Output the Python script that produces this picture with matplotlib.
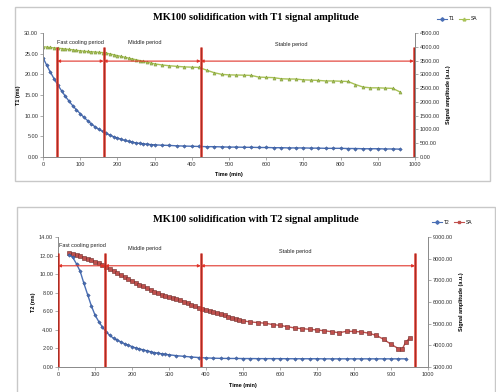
import matplotlib
matplotlib.use("Agg")
import matplotlib.pyplot as plt
from matplotlib.patches import Rectangle
from matplotlib.lines import Line2D

# ---------------- data: top chart (T1) ----------------
t1_time = [0, 10, 20, 30, 40, 50, 60, 70, 80, 90, 100, 110, 120, 130, 140, 150, 160, 170, 180, 190,
           200, 210, 220, 230, 240, 250, 260, 270, 280, 290, 300, 320, 340, 360, 380, 400, 420, 440,
           460, 480, 500, 520, 540, 560, 580, 600, 620, 640, 660, 680, 700, 720, 740, 760, 780, 800,
           820, 840, 860, 880, 900, 920, 940, 960]
t1_values = [24.0, 22.2, 20.5, 18.9, 17.4, 16.0, 14.7, 13.5, 12.4, 11.4, 10.5, 9.6, 8.8, 8.0, 7.3, 6.7,
             6.2, 5.7, 5.3, 4.9, 4.6, 4.3, 4.0, 3.8, 3.6, 3.4, 3.3, 3.2, 3.1, 3.0, 2.95, 2.85, 2.8, 2.7,
             2.65, 2.6, 2.55, 2.5, 2.5, 2.45, 2.4, 2.4, 2.35, 2.35, 2.3, 2.3, 2.25, 2.25, 2.2, 2.2, 2.2,
             2.15, 2.15, 2.1, 2.1, 2.1, 2.05, 2.05, 2.0, 2.0, 2.0, 1.95, 1.95, 1.9]
t1_amp = [4000, 3990, 3975, 3960, 3950, 3935, 3920, 3905, 3890, 3870, 3855, 3840, 3830, 3820, 3810,
          3800, 3790, 3770, 3740, 3710, 3680, 3650, 3620, 3590, 3560, 3530, 3500, 3470, 3440, 3410,
          3380, 3340, 3310, 3290, 3270, 3260, 3250, 3150, 3060, 3000, 2980, 2975, 2970, 2960, 2900,
          2890, 2880, 2840, 2830, 2830, 2800, 2790, 2780, 2760, 2760, 2750, 2740, 2630, 2540, 2510,
          2510, 2500, 2490, 2360]
t1_periods = [38, 163, 424, 997]

# ---------------- data: bottom chart (T2) ----------------
t2_time = [30, 40, 50, 60, 70, 80, 90, 100, 110, 120, 130, 140, 150, 160, 170, 180, 190, 200, 210,
           220, 230, 240, 250, 260, 270, 280, 290, 300, 320, 340, 360, 380, 400, 420, 440, 460, 480,
           500, 520, 540, 560, 580, 600, 620, 640, 660, 680, 700, 720, 740, 760, 780, 800, 820, 840,
           860, 880, 900, 920, 940]
t2_values = [12.1, 11.8, 11.1, 10.3, 9.0, 7.8, 6.6, 5.6, 4.9, 4.3, 3.8, 3.4, 3.1, 2.9, 2.7, 2.5, 2.35,
             2.2, 2.05, 1.95, 1.85, 1.75, 1.65, 1.55, 1.5, 1.42, 1.37, 1.32, 1.22, 1.15, 1.08, 1.02,
             0.98, 0.95, 0.93, 0.92, 0.92, 0.91, 0.91, 0.9, 0.9, 0.9, 0.9, 0.89, 0.89, 0.89, 0.89, 0.89,
             0.88, 0.88, 0.88, 0.88, 0.88, 0.88, 0.88, 0.88, 0.88, 0.88, 0.88, 0.88]
t2_amp_time = [30, 40, 50, 60, 70, 80, 90, 100, 110, 120, 130, 140, 150, 160, 170, 180, 190, 200,
               210, 220, 230, 240, 250, 260, 270, 280, 290, 300, 310, 320, 330, 340, 350, 360, 370,
               380, 390, 400, 410, 420, 430, 440, 450, 460, 470, 480, 490, 500, 520, 540, 560, 580,
               600, 620, 640, 660, 680, 700, 720, 740, 760, 780, 800, 820, 840, 860, 880, 900, 920,
               930, 940, 950]
t2_amp = [8250, 8210, 8170, 8110, 8050, 7980, 7920, 7850, 7780, 7720, 7620, 7520, 7420, 7320, 7230,
          7150, 7060, 6970, 6890, 6800, 6720, 6630, 6550, 6480, 6410, 6340, 6270, 6220, 6170, 6120,
          6070, 6020, 5950, 5870, 5800, 5740, 5690, 5640, 5580, 5520, 5480, 5430, 5380, 5320, 5270,
          5220, 5170, 5130, 5080, 5050, 5020, 4960, 4920, 4860, 4800, 4770, 4740, 4710, 4670, 4630,
          4580, 4650, 4640, 4620, 4560, 4460, 4280, 4050, 3850, 3820, 4150, 4330]
t2_periods = [0, 127, 386, 965]

period_names = ["Fast cooling period", "Middle period", "Stable period"]

BLUE = "#4A6FB5"
GREEN = "#A8C256"
RED = "#C0504D"
LINE_RED = "#E0352B"

plt.rcParams["font.family"] = ["Liberation Sans", "DejaVu Sans"]

W, H = 496, 392
fig = plt.figure(figsize=(W / 100, H / 100), dpi=100)
fig.patch.set_facecolor("white")


def px_axes(x0, y0, x1, y1):
    return fig.add_axes([x0 / W, 1 - y1 / H, (x1 - x0) / W, (y1 - y0) / H])


def frame(x0, y0, x1, y1):
    fig.patches.append(Rectangle((x0 / W, 1 - y1 / H), (x1 - x0) / W, (y1 - y0) / H,
                                 transform=fig.transFigure, facecolor="white",
                                 edgecolor="#c8c8c8", linewidth=1.0, zorder=-5))


def style(ax):
    for s in ["top"]:
        ax.spines[s].set_visible(False)
    for s in ["left", "bottom", "right"]:
        ax.spines[s].set_color("#8c8c8c")
        ax.spines[s].set_linewidth(0.7)
    ax.tick_params(labelsize=4, length=2, width=0.5, color="#8c8c8c", pad=1.5, colors="#333333")


def panel(box, axbox, title, ytitle_y, time, values, amp_time, amp, amp_color, amp_marker,
          ylim, yticks, y2lim, y2ticks, periods, line_top, arrow_y, text_ys, ylab, leg_lab,
          legend_xy):
    frame(*box)
    ax = px_axes(*axbox)
    ax2 = ax.twinx()
    ax.set_zorder(ax2.get_zorder() + 1)
    ax.patch.set_visible(False)
    style(ax)
    style(ax2)
    ax2.spines["left"].set_visible(False)
    ax.set_xlim(0, 1000)
    ax.set_xticks(range(0, 1001, 100))
    ax.set_ylim(*ylim)
    ax.set_yticks(yticks)
    ax.set_yticklabels([f"{v:.2f}" for v in yticks])
    ax2.set_ylim(*y2lim)
    ax2.set_yticks(y2ticks)
    ax2.set_yticklabels([f"{v:.2f}" for v in y2ticks])

    ax2.plot(amp_time, amp, color=amp_color, marker=amp_marker, markersize=2.2,
             markeredgecolor="#6b2a28" if amp_color == RED else "#7f9a3a",
             markeredgewidth=0.4, linewidth=1.0)
    ax.plot(time, values, color=BLUE, marker="D", markersize=1.8, markeredgecolor="#2d4a85",
            markeredgewidth=0.3, linewidth=1.0)

    ax.vlines(periods, 0, line_top, colors=LINE_RED, linewidth=1.8, zorder=5)
    ax.vlines(periods, 0, line_top, colors="#7a2a20", linewidth=0.4, zorder=6)
    for a, b in zip(periods[:-1], periods[1:]):
        ax.annotate("", xy=(b, arrow_y), xytext=(a, arrow_y),
                    arrowprops=dict(arrowstyle="<|-|>", color=LINE_RED, lw=0.8,
                                    mutation_scale=4, shrinkA=0, shrinkB=0), zorder=6)
    for (tx, ty), name in zip(text_ys, period_names):
        ax.text(tx, ty, name, fontsize=4, ha="center", va="center", color="#222222", zorder=7)

    ax.set_xlabel("Time (min)", fontsize=4, fontweight="bold", labelpad=1)
    ax.xaxis.set_label_coords(0.5, -0.12)
    ax.set_ylabel(ylab, fontsize=4, fontweight="bold", labelpad=2)
    ax2.set_ylabel("Signal amplitude (a.u.)", fontsize=4, fontweight="bold", labelpad=4)

    fig.text(256 / W, 1 - ytitle_y / H, title, ha="center", va="center", fontsize=7.5,
             fontweight="bold", family=["Liberation Serif", "DejaVu Serif"])

    handles = [Line2D([], [], color=BLUE, marker="D", markersize=1.8, linewidth=0.8),
               Line2D([], [], color=amp_color, marker=amp_marker, markersize=2, linewidth=0.8)]
    fig.legend(handles, [leg_lab, "SA"], loc="center", ncol=2, fontsize=3.5,
               bbox_to_anchor=(legend_xy[0] / W, 1 - legend_xy[1] / H), frameon=False,
               handlelength=2.0, columnspacing=1.0, handletextpad=0.4)


panel(box=(15, 7, 490, 181), axbox=(43, 33, 415, 157),
      title="MK100 solidification with T1 signal amplitude", ytitle_y=17,
      time=t1_time, values=t1_values, amp_time=t1_time, amp=t1_amp, amp_color=GREEN,
      amp_marker="^", ylim=(0, 30), yticks=[0, 5, 10, 15, 20, 25, 30],
      y2lim=(0, 4500), y2ticks=list(range(0, 4501, 500)), periods=t1_periods,
      line_top=26.6, arrow_y=23.2,
      text_ys=[(100, 27.8), (274, 27.6), (668, 27.2)], ylab="T1 (ms)", leg_lab="T1",
      legend_xy=(457, 19))

panel(box=(17, 207, 495, 395), axbox=(58, 237, 428, 367),
      title="MK100 solidification with T2 signal amplitude", ytitle_y=220,
      time=t2_time, values=t2_values, amp_time=t2_amp_time, amp=t2_amp, amp_color=RED,
      amp_marker="s", ylim=(0, 14), yticks=[0, 2, 4, 6, 8, 10, 12, 14],
      y2lim=(3000, 9000), y2ticks=list(range(3000, 9001, 1000)), periods=t2_periods,
      line_top=12.3, arrow_y=10.9,
      text_ys=[(66, 13.1), (235, 12.8), (640, 12.4)], ylab="T2 (ms)", leg_lab="T2",
      legend_xy=(452, 222))

fig.savefig("out.png", dpi=100)
